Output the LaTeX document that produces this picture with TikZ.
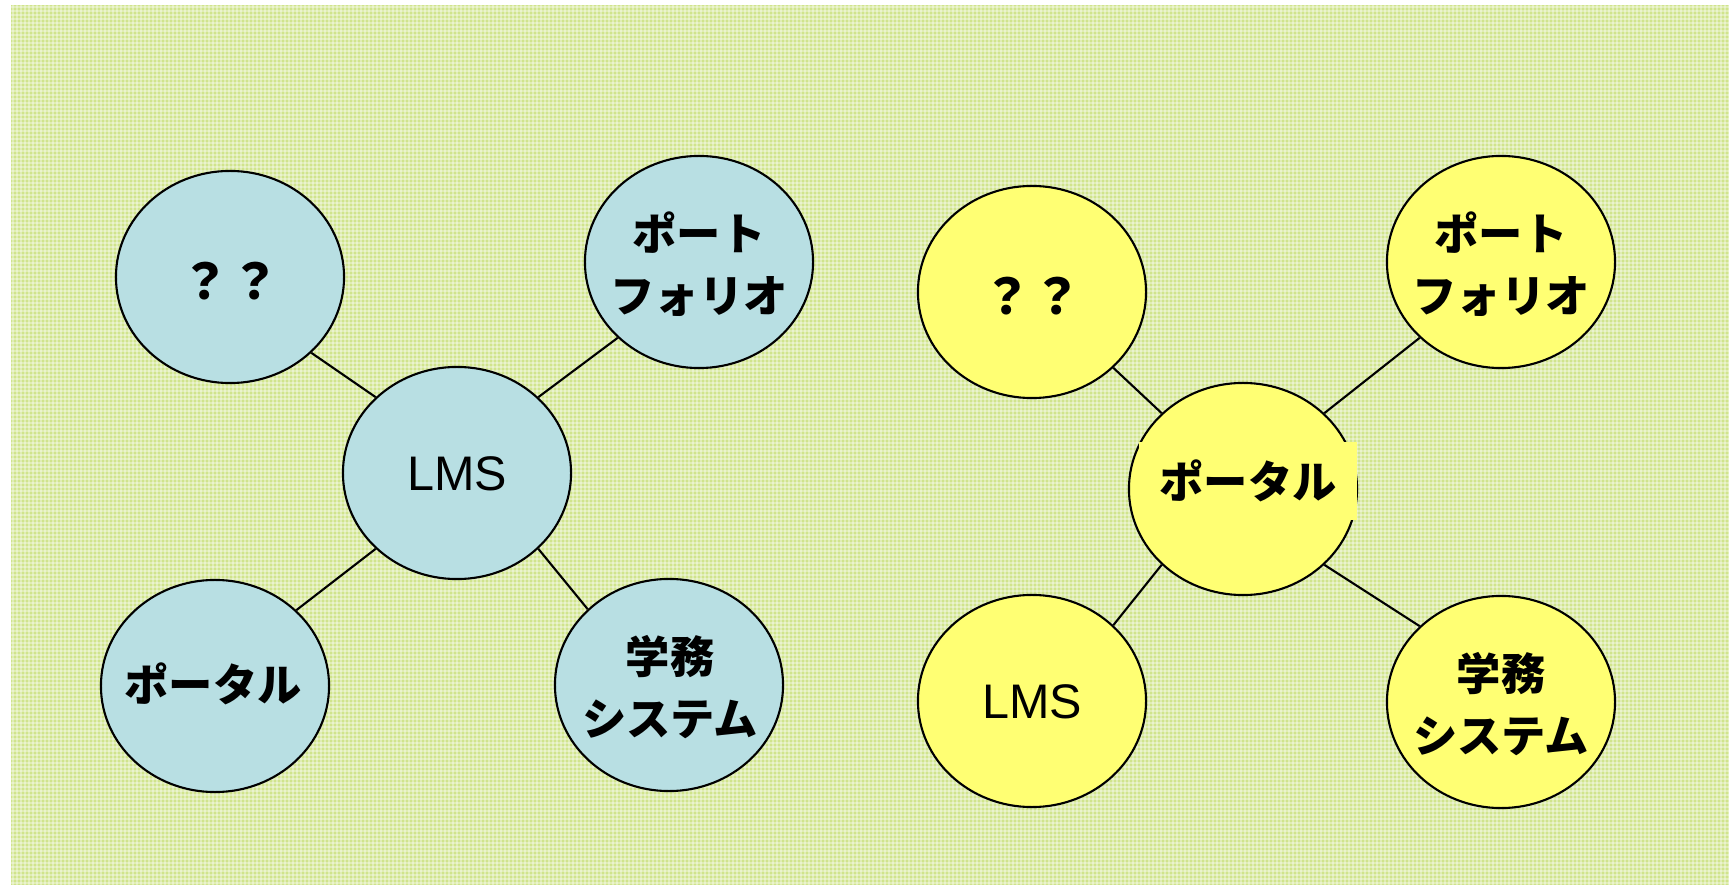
\documentclass[tikz,border=0pt]{standalone}
\usepackage{fontspec}
\setmainfont{Liberation Sans}
\newfontfamily\jp{Noto Sans CJK JP}
\usetikzlibrary{shapes.geometric}
\definecolor{bgGreen}{RGB}{208,228,140}
\definecolor{bubBlue}{RGB}{184,223,227}
\definecolor{bubYellow}{RGB}{255,255,115}
\begin{document}
\begin{tikzpicture}[x=0.01cm,y=-0.01cm,
  bub/.style={ellipse, draw=black, line width=0.6pt, minimum width=2.28cm,
    minimum height=2.12cm, inner sep=0pt},
  blue bub/.style={bub, fill=bubBlue},
  yellow bub/.style={bub, fill=bubYellow},
  jtxt/.style={font=\jp\bfseries\fontsize{12.6}{17.6}\selectfont, align=center, inner sep=0pt},
  qtxt/.style={font=\jp\bfseries\fontsize{14}{17}\selectfont, inner sep=0pt},
  ltxt/.style={font=\fontsize{13.8}{16}\selectfont, inner sep=0pt},
  link/.style={line width=0.6pt, draw=black}]
\useasboundingbox (0,0) rectangle (1729,885);

% textured green backdrop
\fill[bgGreen] (11,5) rectangle (1729,885);
\begin{scope}
  \clip (11,5) rectangle (1729,885);
  \foreach \x in {13,17,...,1729}
    \draw[white, opacity=0.35, line width=0.3pt] (\x,5) -- (\x,885);
  \foreach \y in {7,11,...,885}
    \draw[white, opacity=0.35, line width=0.3pt] (11,\y) -- (1729,\y);
\end{scope}

% left group: LMS at the hub
\node[blue bub] (lq)   at (230,277) {};
\node[blue bub] (lpf)  at (699,262) {};
\node[blue bub] (llms) at (457,473) {};
\node[blue bub] (lpor) at (215,686) {};
\node[blue bub] (lgk)  at (669,685) {};

\node[qtxt] (lq-t)   at (230,281) {？？};
\node[jtxt] (lpf-t)  at (699,264) {ポート\\フォリオ};
\node[ltxt] (llms-t) at (457,474) {LMS};
\node[jtxt] (lpor-t) at (213,684) {ポータル};
\node[jtxt] (lgk-t)  at (670,687) {学務\\システム};

\draw[link] (lq.-43)   -- (llms.137);
\draw[link] (lpf.223)  -- (llms.43);
\draw[link] (llms.223) -- (lpor.43);
\draw[link] (llms.-43) -- (lgk.137);

% right group: portal at the hub
\node[yellow bub] (rq)   at (1032,292) {};
\node[yellow bub] (rpf)  at (1501,262) {};
\node[yellow bub] (rpor) at (1243,489) {};
\node[yellow bub] (rlms) at (1032,701) {};
\node[yellow bub] (rgk)  at (1501,702) {};

\node[qtxt] (rq-t)   at (1032,296) {？？};
\node[jtxt] (rpf-t)  at (1501,264) {ポート\\フォリオ};
\node[jtxt, fill=bubYellow, minimum width=2.17cm, minimum height=0.77cm]
  (rpor-t) at (1248,481) {ポータル};
\node[ltxt] (rlms-t) at (1032,702) {LMS};
\node[jtxt] (rgk-t)  at (1501,704) {学務\\システム};

\draw[link] (rq.-43)    -- (rpor.137);
\draw[link] (rpf.223)   -- (rpor.43);
\draw[link] (rpor.223)  -- (rlms.43);
\draw[link] (rpor.-43)  -- (rgk.137);
\end{tikzpicture}
\end{document}
